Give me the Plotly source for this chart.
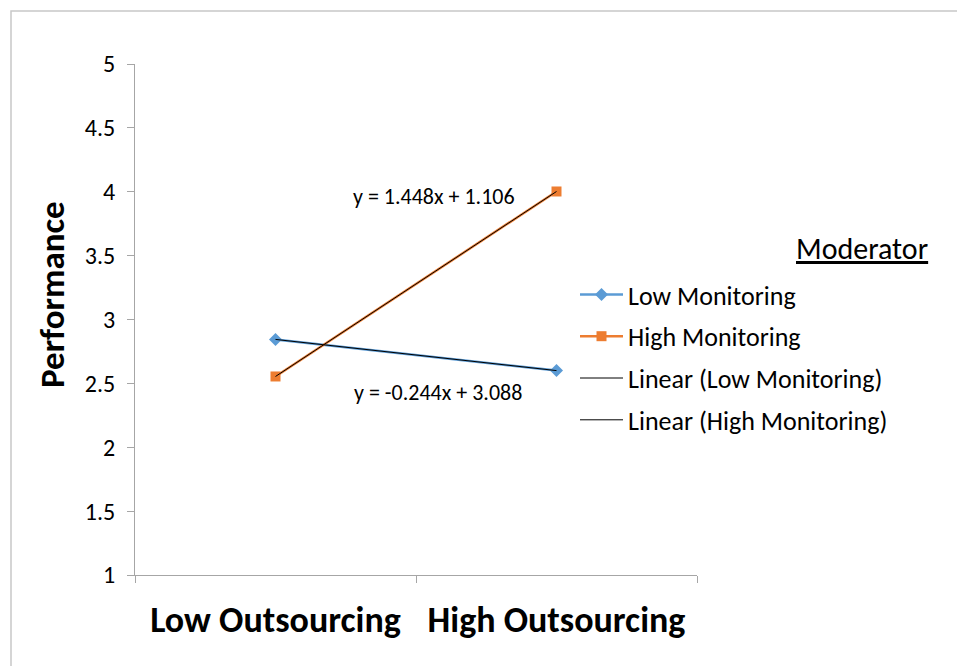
import numpy as np
import plotly.graph_objects as go

categories = ["Low Outsourcing", "High Outsourcing"]
low_monitoring = [2.844, 2.600]
high_monitoring = [2.554, 4.002]
series_names = ["Low Monitoring", "High Monitoring"]
y_ticks = [1, 1.5, 2, 2.5, 3, 3.5, 4, 4.5, 5]
y_tick_text = ["1", "1.5", "2", "2.5", "3", "3.5", "4", "4.5", "5"]

FONT = "Carlito, Lato, 'Open Sans', sans-serif"
BLUE = "#5B9BD5"
ORANGE = "#ED7D31"
GREY = "#A6A6A6"

xpos = np.arange(1, len(categories) + 1)

fig = go.Figure()
fig.add_trace(go.Scatter(
    x=xpos, y=low_monitoring, name=series_names[0], mode="lines+markers",
    line=dict(color=BLUE, width=2.5),
    marker=dict(symbol="diamond", size=10, color=BLUE),
    legendgroup="a",
))
fig.add_trace(go.Scatter(
    x=xpos, y=high_monitoring, name=series_names[1], mode="lines+markers",
    line=dict(color=ORANGE, width=2.5),
    marker=dict(symbol="square", size=10, color=ORANGE),
    legendgroup="b",
))

fits = []
for nm, ys, grp in [(series_names[0], low_monitoring, "c"), (series_names[1], high_monitoring, "d")]:
    m, b = np.polyfit(xpos, ys, 1)
    fits.append((m, b))
    fig.add_trace(go.Scatter(
        x=xpos, y=m * xpos + b, name=f"Linear ({nm})", mode="lines",
        line=dict(color="black", width=1), legendgroup=grp,
    ))

def eq(m, b):
    sign = "+" if b >= 0 else "-"
    return f"y = {m:.3f}x {sign} {abs(b):.3f}"

# equation labels
fig.add_annotation(x=1.564, y=3.959, xref="x", yref="y", text=eq(*fits[1]),
                   showarrow=False, xanchor="center", yanchor="middle",
                   font=dict(family=FONT, size=22, color="black"))
fig.add_annotation(x=1.578, y=2.425, xref="x", yref="y", text=eq(*fits[0]),
                   showarrow=False, xanchor="center", yanchor="middle",
                   font=dict(family=FONT, size=22, color="black"))

W, H = 957, 666
L, R, T, B = 135, 260, 64, 91
pw, ph = W - L - R, H - T - B

# legend title
fig.add_annotation(x=(862 - L) / pw, y=1 - (248 - T) / ph, xref="paper", yref="paper",
                   text="<u>Moderator</u>", showarrow=False,
                   xanchor="center", yanchor="middle",
                   font=dict(family=FONT, size=30, color="black"))
# y axis title
fig.add_annotation(x=(52 - L) / pw, y=1 - (295 - T) / ph, xref="paper", yref="paper",
                   text="<b>Performance</b>", showarrow=False, textangle=-90,
                   xanchor="center", yanchor="middle",
                   font=dict(family=FONT, size=35, color="black"))

# chart border
fig.add_shape(type="rect", xref="paper", yref="paper",
              x0=(11 - L) / pw, x1=(1000 - L) / pw,
              y0=1 - (700 - T) / ph, y1=1 + (T - 11) / ph,
              line=dict(color="#C8C8C8", width=1.5), layer="below")

fig.update_layout(
    width=W, height=H,
    margin=dict(l=L, r=R, t=T, b=B, autoexpand=False),
    paper_bgcolor="white", plot_bgcolor="white",
    font=dict(family=FONT, color="black"),
    showlegend=True,
    legend=dict(
        x=(575 - L) / pw, y=1 - (271 - T) / ph, xanchor="left", yanchor="top",
        font=dict(family=FONT, size=26, color="black"),
        tracegroupgap=5, itemwidth=43, bgcolor="rgba(0,0,0,0)",
    ),
    xaxis=dict(
        range=[0.5, 2.5], tickmode="array", tickvals=list(xpos), ticktext=categories,
        ticks="outside", ticklen=13, tickcolor="rgba(0,0,0,0)",
        tickfont=dict(family=FONT, size=36, color="black", weight="bold"),
        showline=True, linecolor=GREY, linewidth=1, showgrid=False, zeroline=False,
        minor=dict(tickmode="array", tickvals=[0.5, 1.5, 2.5], ticks="outside",
                   ticklen=7, tickcolor=GREY, showgrid=False),
        fixedrange=True,
    ),
    yaxis=dict(
        range=[1, 5], tickmode="array", tickvals=y_ticks, ticktext=y_tick_text,
        ticks="outside", ticklen=7, tickcolor=GREY,
        tickfont=dict(family=FONT, size=24, color="black"),
        ticklabelstandoff=7,
        showline=True, linecolor=GREY, linewidth=1, showgrid=False, zeroline=False,
        fixedrange=True,
    ),
)

fig.write_html("out.html")
